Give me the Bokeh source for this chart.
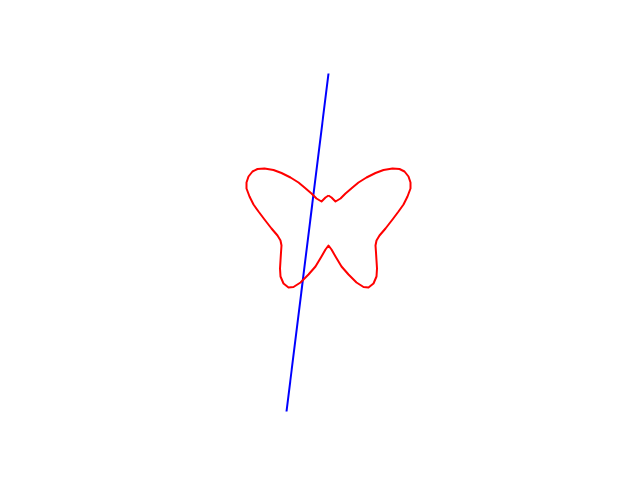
from bokeh.plotting import figure
from bokeh.models import Range1d
from bokeh.embed import file_html
from bokeh.resources import INLINE

# Butterfly outline, centred on the body, y upwards
butterfly_x = [0, 3, 7, 12, 17, 24, 30, 38, 47, 55, 64, 71, 76, 80, 82, 82, 79, 75, 70, 64, 57, 51, 48, 47, 47.5, 48, 48.5, 48, 45, 40, 35, 28, 20, 13, 7, 3, 0,
               -3, -7, -13, -20, -28, -35, -40, -45, -48, -48.5, -48, -47.5, -47, -48, -51, -57, -64, -70, -75, -79, -82, -82, -80, -76, -71, -64, -55, -47, -38, -30, -24, -17, -12, -7, -3, 0]
butterfly_y = [45, 43, 39, 42, 47, 53, 58, 63, 67.5, 70.5, 72, 71.5, 69, 64, 58, 52, 44, 36, 29, 21, 12, 5, 0, -5, -12, -20, -28, -36, -43, -47, -46.5, -42, -34, -26, -16, -9, -5,
               -9, -16, -26, -34, -42, -46.5, -47, -43, -36, -28, -20, -12, -5, 0, 5, 12, 21, 29, 36, 44, 52, 58, 64, 69, 71.5, 72, 70.5, 67.5, 63, 58, 53, 47, 42, 39, 43, 45]

# Straight blue segment
line_x = [0, -42]
line_y = [167, -171]

p = figure(width=624, height=464, output_backend="svg", toolbar_location=None,
           x_axis_type=None, y_axis_type=None,
           x_range=Range1d(-328, 296), y_range=Range1d(-224, 240),
           min_border=0)
p.grid.visible = False
p.outline_line_color = None
p.background_fill_color = "white"
p.border_fill_color = "white"

p.line(line_x, line_y, line_color="blue", line_width=2)
p.line(butterfly_x, butterfly_y, line_color="red", line_width=2, line_join="round")

open("out.html", "w").write(file_html(p, INLINE))
